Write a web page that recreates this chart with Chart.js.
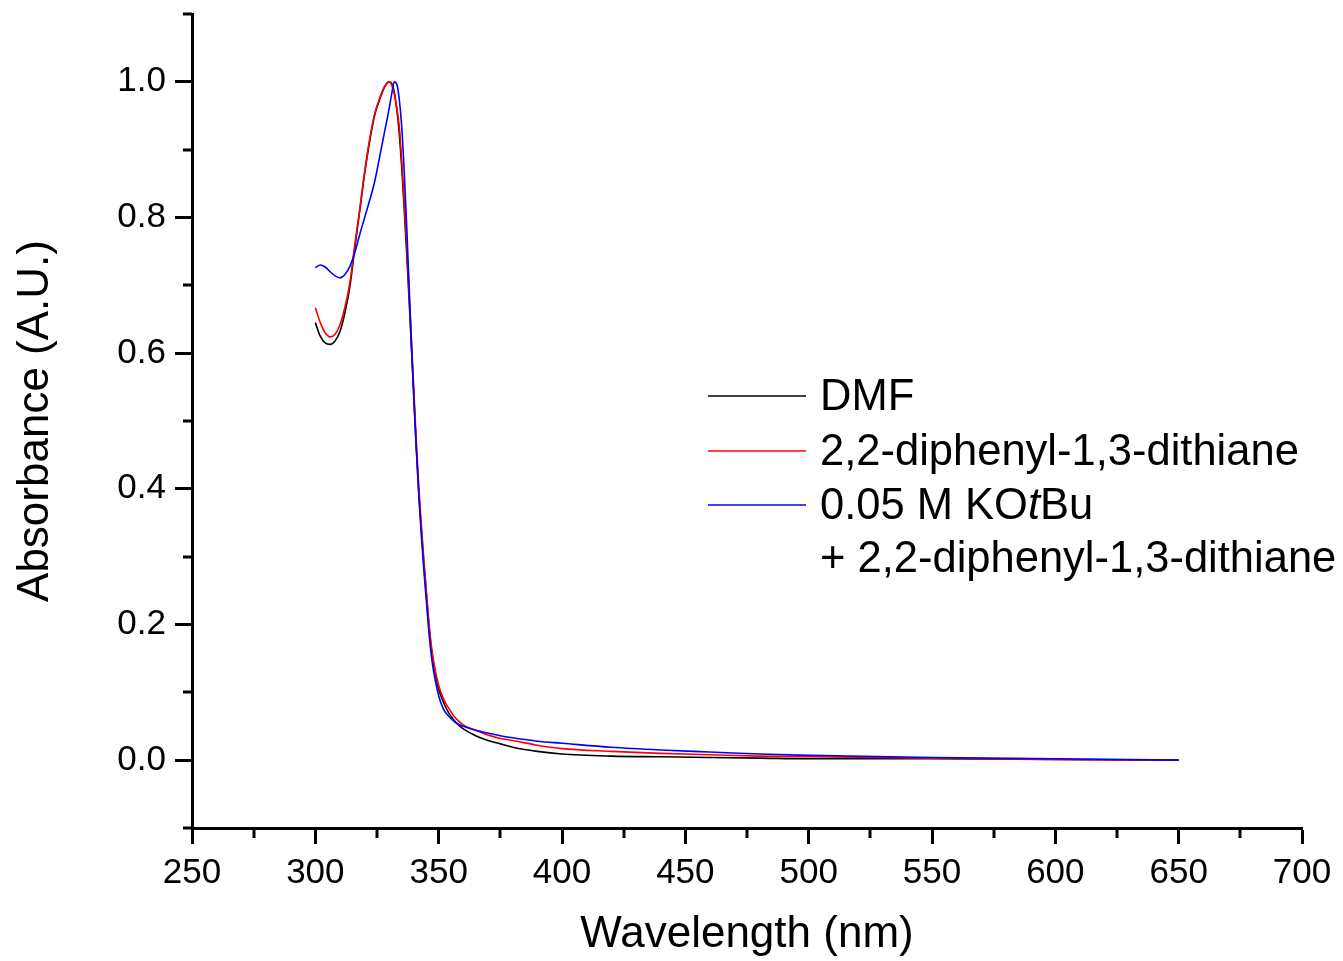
<!DOCTYPE html>
<html>
<head>
<meta charset="utf-8">
<title>UV-Vis absorbance</title>
<script src="https://cdn.jsdelivr.net/npm/chart.js@4.4.1/dist/chart.umd.min.js"></script>
<style>
    html, body { margin: 0; padding: 0; background: #fff; }
    canvas { display: block; }
</style>
</head>
<body>
<canvas id="absChart" width="1343" height="961"></canvas>
<script>
// wavelength grid (nm) shared by the three spectra
var wavelengths = [300, 302, 304, 306, 308, 310, 312, 314, 316, 318, 320, 322, 324, 326, 328,
    330, 331, 332, 333, 334, 335, 336, 337, 338, 339, 340, 341, 342, 343, 344, 345, 346, 347, 348,
    350, 352, 354, 356, 358, 360, 365, 370, 375, 380, 390, 400, 420, 440, 460, 480, 500, 550, 600, 650];

// normalised absorbance
var dmf = [0.645, 0.625, 0.615, 0.613, 0.618, 0.632, 0.660, 0.698, 0.755, 0.810, 0.865, 0.912, 0.950, 0.973, 0.992,
    1.000, 0.997, 0.985, 0.960, 0.925, 0.875, 0.815, 0.750, 0.680, 0.605, 0.530, 0.455, 0.390, 0.338, 0.290, 0.245, 0.200, 0.165, 0.140,
    0.105, 0.085, 0.070, 0.060, 0.052, 0.046, 0.036, 0.029, 0.024, 0.019, 0.013, 0.009, 0.006, 0.005, 0.004, 0.003, 0.002, 0.002, 0.001, 0.000];

var dithiane = [0.667, 0.645, 0.630, 0.624, 0.628, 0.642, 0.668, 0.704, 0.760, 0.812, 0.868, 0.915, 0.952, 0.975, 0.993,
    1.000, 0.995, 0.982, 0.962, 0.935, 0.885, 0.825, 0.760, 0.690, 0.615, 0.540, 0.465, 0.400, 0.345, 0.295, 0.250, 0.205, 0.170, 0.145,
    0.110, 0.090, 0.077, 0.066, 0.058, 0.052, 0.044, 0.037, 0.032, 0.029, 0.022, 0.017, 0.013, 0.010, 0.008, 0.006, 0.005, 0.003, 0.001, 0.000];

var kotbuDithiane = [0.726, 0.730, 0.727, 0.720, 0.714, 0.711, 0.716, 0.728, 0.748, 0.775, 0.800, 0.825, 0.852, 0.888, 0.925,
    0.962, 0.983, 1.000, 0.997, 0.975, 0.935, 0.870, 0.790, 0.700, 0.610, 0.530, 0.455, 0.388, 0.330, 0.280, 0.235, 0.190, 0.155, 0.130,
    0.095, 0.075, 0.065, 0.058, 0.053, 0.050, 0.044, 0.040, 0.036, 0.033, 0.028, 0.025, 0.019, 0.015, 0.012, 0.009, 0.007, 0.004, 0.002, 0.000];

var xMajor = [250, 300, 350, 400, 450, 500, 550, 600, 650, 700];
var xMinor = [275, 325, 375, 425, 475, 525, 575, 625, 675];
var yMajor = [0.0, 0.2, 0.4, 0.6, 0.8, 1.0];
var yMinor = [-0.1, 0.1, 0.3, 0.5, 0.7, 0.9, 1.1];

var FONT = "'Liberation Sans', Arial, sans-serif";

function points(values) {
    return wavelengths.map(function (w, i) { return { x: w, y: values[i] }; });
}

// short outward ticks between the labelled ones
var minorTicks = {
    id: 'minorTicks',
    afterDraw: function (chart) {
        var ctx = chart.ctx, xs = chart.scales.x, ys = chart.scales.y;
        ctx.save();
        ctx.strokeStyle = '#000';
        ctx.lineWidth = 3;
        ctx.beginPath();
        xMinor.forEach(function (v) {
            var px = Math.round(xs.getPixelForValue(v));
            ctx.moveTo(px, xs.top);
            ctx.lineTo(px, xs.top + 10);
        });
        yMinor.forEach(function (v) {
            var py = Math.round(ys.getPixelForValue(v));
            ctx.moveTo(ys.right, py);
            ctx.lineTo(ys.right - 9, py);
        });
        ctx.stroke();
        ctx.restore();
    }
};

// legend inside the plot, with italic "t" in KOtBu
var spectraLegend = {
    id: 'spectraLegend',
    afterDraw: function (chart) {
        var ctx = chart.ctx;
        var x0 = 708, x1 = 806, tx = 820;
        var rows = [
            { y: 396, color: '#000000', parts: [['DMF', false]] },
            { y: 451, color: '#ff0000', parts: [['2,2-diphenyl-1,3-dithiane', false]] },
            { y: 505, color: '#0000ff', parts: [['0.05 M KO', false], ['t', true], ['Bu', false]] },
            { y: 558, color: null, parts: [['+ 2,2-diphenyl-1,3-dithiane', false]] }
        ];
        ctx.save();
        ctx.textBaseline = 'middle';
        ctx.fillStyle = '#000';
        rows.forEach(function (r) {
            if (r.color) {
                ctx.strokeStyle = r.color;
                ctx.lineWidth = 1.6;
                ctx.beginPath();
                ctx.moveTo(x0, r.y);
                ctx.lineTo(x1, r.y);
                ctx.stroke();
            }
            var cx = tx;
            r.parts.forEach(function (p) {
                ctx.font = (p[1] ? 'italic ' : '') + '43.5px ' + FONT;
                ctx.fillText(p[0], cx, r.y + 2);
                cx += ctx.measureText(p[0]).width;
            });
        });
        ctx.restore();
    }
};

new Chart(document.getElementById('absChart'), {
    type: 'line',
    data: {
        datasets: [{
            label: 'DMF',
            data: points(dmf),
            borderColor: '#000000',
            order: 3
        }, {
            label: '2,2-diphenyl-1,3-dithiane',
            data: points(dithiane),
            borderColor: '#ff0000',
            order: 2
        }, {
            label: '0.05 M KOtBu + 2,2-diphenyl-1,3-dithiane',
            data: points(kotbuDithiane),
            borderColor: '#0000ff',
            order: 1
        }]
    },
    options: {
        responsive: false,
        animation: false,
        layout: { padding: { top: 14, right: 41, left: 0, bottom: 0 } },
        elements: {
            line: { borderWidth: 1.6, cubicInterpolationMode: 'monotone', fill: false },
            point: { radius: 0 }
        },
        plugins: {
            legend: { display: false },
            tooltip: { enabled: false }
        },
        scales: {
            x: {
                type: 'linear',
                min: 250,
                max: 700,
                afterBuildTicks: function (s) { s.ticks = xMajor.map(function (v) { return { value: v }; }); },
                afterFit: function (s) { s.height = 133; },
                grid: { drawOnChartArea: false, tickLength: 16, tickWidth: 3, tickColor: '#000' },
                border: { display: true, width: 3, color: '#000' },
                ticks: {
                    color: '#000',
                    padding: 8,
                    maxRotation: 0,
                    autoSkip: false,
                    font: { family: FONT, size: 35 },
                    callback: function (v) { return String(v); }
                },
                title: {
                    display: true,
                    text: 'Wavelength (nm)',
                    color: '#000',
                    font: { family: FONT, size: 44 },
                    padding: { top: 0, bottom: 0 }
                }
            },
            y: {
                type: 'linear',
                min: -0.1,
                max: 1.1,
                afterBuildTicks: function (s) { s.ticks = yMajor.map(function (v) { return { value: v }; }); },
                afterFit: function (s) {
                    s.width = 192;
                    s.paddingTop = 0;
                    s.paddingBottom = 0;
                },
                grid: { drawOnChartArea: false, tickLength: 17, tickWidth: 3, tickColor: '#000' },
                border: { display: true, width: 3, color: '#000' },
                ticks: {
                    color: '#000',
                    padding: 9,
                    autoSkip: false,
                    font: { family: FONT, size: 35 },
                    callback: function (v) { return Number(v).toFixed(1); }
                },
                title: {
                    display: true,
                    text: 'Absorbance (A.U.)',
                    color: '#000',
                    font: { family: FONT, size: 44 },
                    padding: { top: 9, bottom: 0 }
                }
            }
        }
    },
    plugins: [minorTicks, spectraLegend]
});
</script>
</body>
</html>
